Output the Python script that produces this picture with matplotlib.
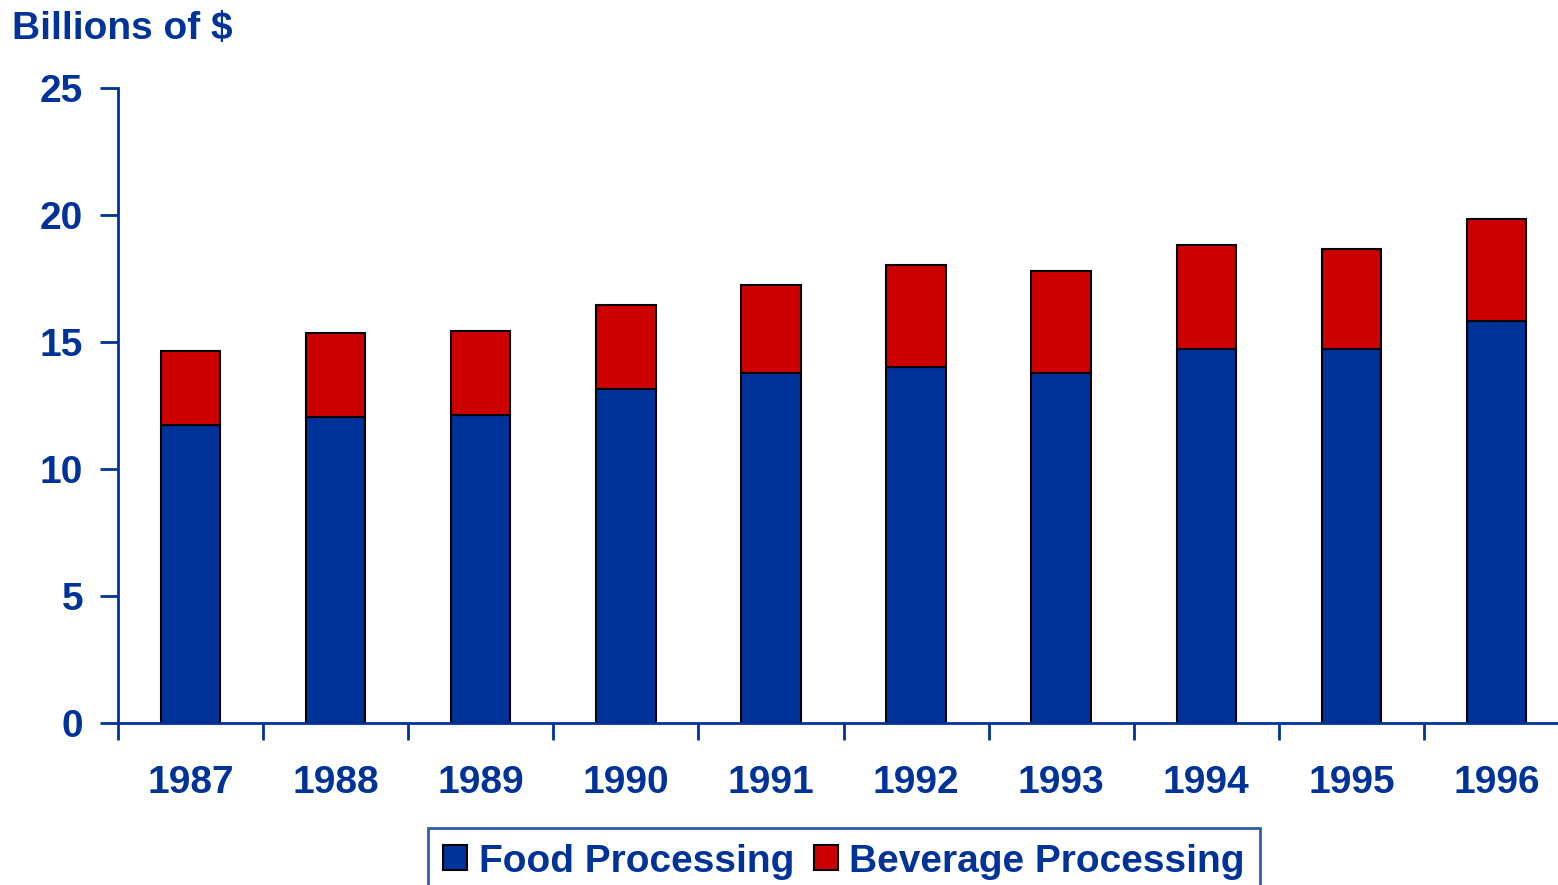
import numpy as np
import matplotlib.pyplot as plt

years = ["1987", "1988", "1989", "1990", "1991", "1992", "1993", "1994", "1995", "1996"]
food = [11.73, 12.05, 12.13, 13.15, 13.78, 14.02, 13.78, 14.72, 14.72, 15.83]
total = [14.65, 15.35, 15.43, 16.46, 17.24, 18.03, 17.80, 18.82, 18.66, 19.84]
beverage = [t - f for t, f in zip(total, food)]

blue = "#003399"
red = "#CC0000"

plt.rcParams['font.family'] = ['Liberation Sans', 'DejaVu Sans']
plt.rcParams['font.weight'] = 'bold'

fig = plt.figure(figsize=(15.58, 8.85), dpi=100)
# axes runs past the right edge like the original
ax = fig.add_axes([118 / 1558, 1 - 723 / 885, 1451 / 1558, 635 / 885])

x = np.arange(len(years))
ax.bar(x, food, width=0.41, color=blue, edgecolor='black', linewidth=1.5, label="Food Processing")
ax.bar(x, beverage, width=0.41, bottom=food, color=red, edgecolor='black', linewidth=1.5,
       label="Beverage Processing")

ax.set_xlim(-0.5, 9.5)
ax.set_ylim(0, 25)
ax.set_yticks([0, 5, 10, 15, 20, 25])

for s in ['top', 'right']:
    ax.spines[s].set_visible(False)
for s in ['left', 'bottom']:
    ax.spines[s].set_color(blue)
    ax.spines[s].set_linewidth(2)

ax.set_xticks(x)
ax.set_xticklabels(years)
ax.set_xticks(np.arange(-0.5, 10, 1), minor=True)
ax.tick_params(axis='x', which='major', length=0, pad=30, labelsize=28, labelcolor=blue)
ax.tick_params(axis='x', which='minor', length=12, width=2, color=blue, direction='out')
ax.tick_params(axis='y', length=13, width=2, color=blue, pad=12, labelsize=28, labelcolor=blue)
for lbl in ax.get_xticklabels() + ax.get_yticklabels():
    lbl.set_fontweight('bold')

fig.text(12 / 1558, 1 - 11 / 885, "Billions of $", fontsize=28, fontweight='bold', color=blue,
         ha='left', va='top')

leg = fig.legend(loc='upper center', bbox_to_anchor=(844 / 1558, 1 - 828 / 885), ncol=2,
                 frameon=True, fancybox=False, fontsize=28, handlelength=0.62, handleheight=0.62,
                 handletextpad=0.3, columnspacing=0.5, borderpad=0.4, borderaxespad=0)
leg.get_frame().set_edgecolor(blue)
leg.get_frame().set_linewidth(2)
for t in leg.get_texts():
    t.set_color(blue)
    t.set_fontweight('bold')

fig.savefig("out.png", dpi=100)
